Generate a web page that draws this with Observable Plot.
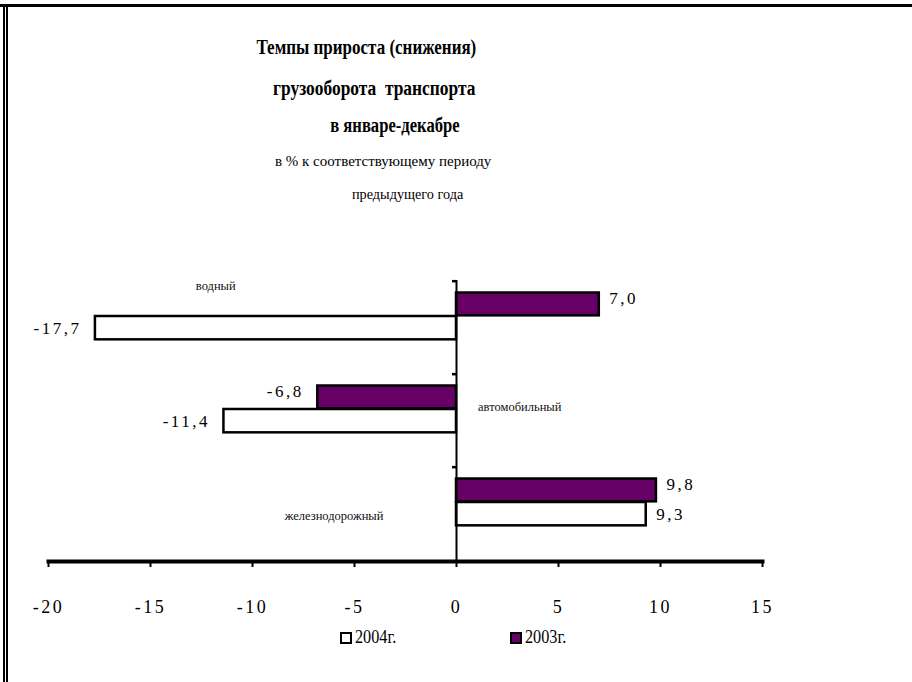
<!DOCTYPE html>
<html>
<head>
<meta charset="utf-8">
<script src="https://cdn.jsdelivr.net/npm/d3@7"></script>
<script src="https://cdn.jsdelivr.net/npm/@observablehq/plot@0.6"></script>
<style>
  html, body { margin: 0; padding: 0; overflow: hidden; background: #fff; }
  #wrap { position: relative; width: 912px; height: 682px; background: #fff; overflow: hidden; font-family: "Liberation Serif", serif; color: #000; }
  #chart { position: absolute; left: 0; top: 0; }
  #chart svg { background: transparent !important; }
  #chart svg text { font-family: "Liberation Serif", serif !important; }
  .line { position: absolute; background: #000; }
  .t { position: absolute; white-space: pre; line-height: 1; transform-origin: center center; }
  .b { font-weight: bold; font-size: 20px; }
  .n { font-weight: normal; font-size: 15px; }
  g[aria-label="x-axis tick label"] text { letter-spacing: 2.5px; }
  g.vlabel text { letter-spacing: 2.5px; }
  .leg { position: absolute; display: flex; align-items: center; font-size: 18px; }
  .leg span { display: inline-block; transform: scaleX(0.9); transform-origin: left center; }
  .sw { width: 8px; height: 8px; border: 2px solid #000; margin-right: 3px; }
</style>
</head>
<body>
<div id="wrap">
  <div id="chart"></div>
  <div class="line" style="left:0;top:4px;width:912px;height:3px"></div>
  <div class="line" style="left:3px;top:4px;width:2px;height:678px"></div>
  <div class="line" style="left:6px;top:4px;width:2px;height:678px"></div>
  <div id="titles"></div>
  <div id="legend"></div>
</div>
<script>
const categories = ["водный", "автомобильный", "железнодорожный"];
const series = ["2004г.", "2003г."];
const values2004 = [-17.7, -11.4, 9.3];
const values2003 = [7.0, -6.8, 9.8];
const xTicks = [-20, -15, -10, -5, 0, 5, 10, 15];
const seriesColors = ["#ffffff", "#660066"];

const titleLines = [
  "Темпы прироста (снижения)",
  "грузооборота  транспорта",
  "в январе-декабре",
  "в % к соответствующему периоду",
  "предыдущего года"
];

const rows2004 = categories.map((c, i) => ({category: c, series: series[0], value: values2004[i]}));
const rows2003 = categories.map((c, i) => ({category: c, series: series[1], value: values2003[i]}));
const fmt = v => v.toFixed(1).replace(".", ",");

const W = 912, H = 682, mL = 48, mR = 150, mT = 280, mB = 121;
const bw = (H - mT - mB) / categories.length;

// category label anchors (x in data units, vertical offset within band)
const catLabel = {
  "водный": {x: -11.8, dy: 5 - bw / 2},
  "автомобильный": {x: 3.1, dy: 33 - bw / 2},
  "железнодорожный": {x: -6.0, dy: 49 - bw / 2}
};

const valueText = (rows, pos, dy) => Plot.text(rows.filter(d => pos ? d.value >= 0 : d.value < 0), {
  x: "value", y: "category", text: d => fmt(d.value),
  textAnchor: pos ? "start" : "end", dx: pos ? 10 : -14, dy,
  fontSize: 17, fill: "#000", className: "vlabel"
});

const plot = Plot.plot({
  width: W, height: H,
  marginLeft: mL, marginRight: mR, marginTop: mT, marginBottom: mB,
  style: {fontFamily: "'Liberation Serif', serif", background: "transparent", color: "#000"},
  x: {domain: [-20, 15]},
  y: {domain: categories, padding: 0, axis: null},
  marks: [
    Plot.barX(rows2004, {x1: 0, x2: "value", y: "category", fill: seriesColors[0], stroke: "#000", strokeWidth: 2.5, insetTop: 35, insetBottom: bw - 59}),
    Plot.barX(rows2003, {x1: 0, x2: "value", y: "category", fill: seriesColors[1], stroke: "#000", strokeWidth: 2.5, insetTop: 11.5, insetBottom: bw - 35}),
    Plot.ruleX([0], {stroke: "#000", strokeWidth: 2}),
    Plot.ruleY(categories, {y: d => d, x1: 0, x2: 0, insetLeft: -4, dy: -bw / 2, stroke: "#000", strokeWidth: 2.5}),
    Plot.frame({anchor: "bottom", stroke: "#000", strokeWidth: 4}),
    Plot.axisX({ticks: xTicks, tickSize: 6, tickPadding: 33, strokeWidth: 2, tickFormat: d => String(d), fontSize: 18, label: null, fill: "#000"}),
    valueText(rows2003, true, -29),
    valueText(rows2003, false, -29),
    valueText(rows2004, true, 1),
    valueText(rows2004, false, 1),
    ...categories.map(c => Plot.text([c], {x: () => catLabel[c].x, y: d => d, text: d => d, dy: catLabel[c].dy, fontSize: 12.5, fill: "#111"}))
  ]
});
document.getElementById("chart").appendChild(plot);

// titles
const tconf = [
  {cls: "b", cx: 366, cy: 47, sx: 0.85},
  {cls: "b", cx: 374, cy: 88, sx: 0.87},
  {cls: "b", cx: 395, cy: 125, sx: 0.83},
  {cls: "n", cx: 383, cy: 161, sx: 1.0},
  {cls: "n", cx: 407, cy: 194, sx: 0.95}
];
const tdiv = document.getElementById("titles");
titleLines.forEach((txt, i) => {
  const c = tconf[i];
  const el = document.createElement("div");
  el.className = "t " + c.cls;
  el.textContent = txt;
  tdiv.appendChild(el);
  const w = el.offsetWidth, h = el.offsetHeight;
  el.style.left = (c.cx - w / 2) + "px";
  el.style.top = (c.cy - h / 2) + "px";
  el.style.transform = `scaleX(${c.sx})`;
});

// legend
const legX = [340, 510];
const ldiv = document.getElementById("legend");
series.forEach((s, i) => {
  const el = document.createElement("div");
  el.className = "leg";
  el.style.left = legX[i] + "px";
  el.style.top = "627px";
  el.innerHTML = `<div class="sw" style="background:${seriesColors[i]}"></div><span>${s}</span>`;
  ldiv.appendChild(el);
});
</script>
</body>
</html>
